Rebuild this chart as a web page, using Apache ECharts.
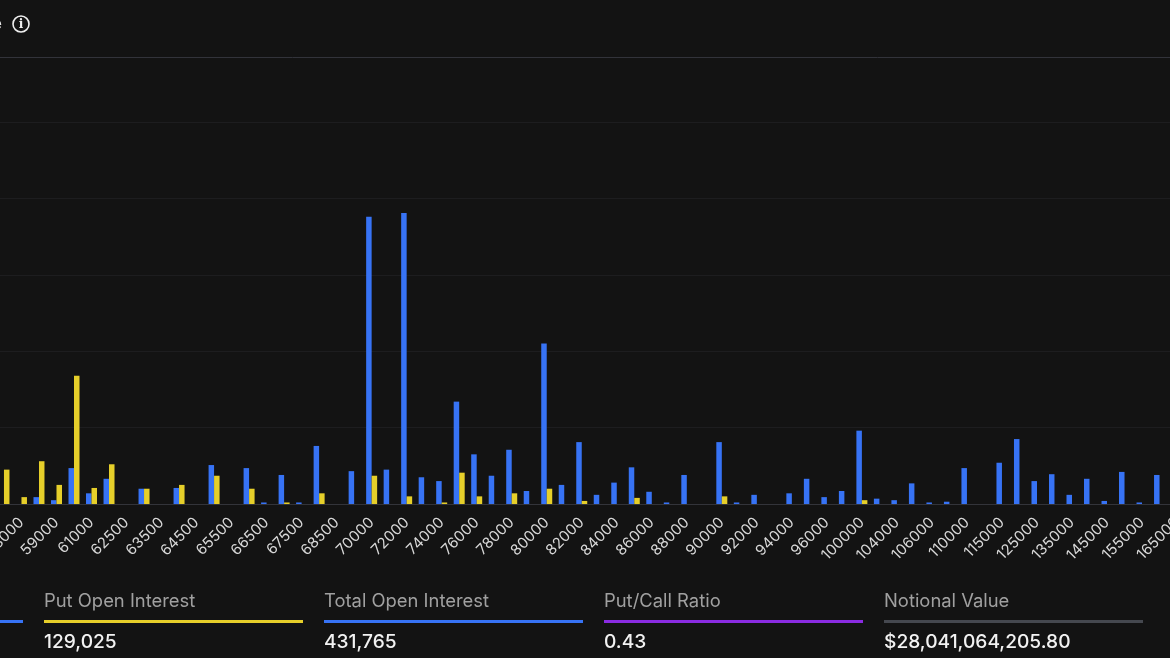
<!DOCTYPE html>
<html><head><meta charset="utf-8">
<style>html,body{margin:0;padding:0;background:#131313;overflow:hidden}#c{width:1170px;height:658px}</style>
<script src="https://cdn.jsdelivr.net/npm/echarts@6/dist/echarts.min.js"></script>
</head><body><div id="c"></div>
<script>
const strikes=['57000','57500','58000','58500','59000','60000','61000','62000','62500','63000','63500','64000','64500','65000','65500','66000','66500','67000','67500','68000','68500','69000','70000','71000','72000','73000','74000','75000','76000','77000','78000','79000','80000','81000','82000','83000','84000','85000','86000','87000','88000','89000','90000','91000','92000','93000','94000','95000','96000','98000','100000','102000','104000','105000','106000','108000','110000','112000','115000','120000','125000','130000','135000','140000','145000','150000','155000','160000','165000'];
const callOI=[0,0,0,900,500,4700,1400,3300,0,2000,0,2100,0,5100,0,4700,200,3800,200,7600,0,4300,37600,4500,38100,3500,3000,13400,6500,3700,7100,1700,21000,2500,8100,1200,2800,4800,1600,200,3800,0,8100,200,1200,0,1400,3300,900,1700,9600,700,500,2700,200,300,4700,0,5400,8500,3000,3900,1200,3300,400,4200,200,3800,0];
const putOI=[0,4500,900,5600,2500,16800,2100,5200,0,2000,0,2500,0,3700,0,2000,0,200,0,1400,0,0,3700,0,1000,0,200,4100,1000,0,1400,0,2000,0,400,0,0,800,0,0,0,0,1000,0,0,0,0,0,0,0,500,0,0,0,0,0,0,0,0,0,0,0,0,0,0,0,0,0,0];
const statLabels=['Call Open Interest','Put Open Interest','Total Open Interest','Put/Call Ratio','Notional Value'];
const statValues=['302,740','129,025','431,765','0.43','$28,041,064,205.80'];
const statColors=['#3773f5','#e6cf2a','#3773f5','#8a2be2','#45484f'];
const FONT='Inter, "Noto Sans", sans-serif';
const statX=[-236,44,324,604,884],statW=259;
const gfx=[
 {type:'line',silent:true,shape:{x1:0,y1:57.5,x2:1170,y2:57.5},style:{stroke:'#32333a',lineWidth:1}},
 {type:'text',silent:true,style:{x:2,y:24,text:'Open Interest By Strike Price',align:'right',verticalAlign:'middle',fill:'#e6e6e6',font:'500 16px '+FONT}},
 {type:'circle',silent:true,shape:{cx:21,cy:24,r:8},style:{fill:'none',stroke:'#eeeeee',lineWidth:1.6}},
 {type:'text',silent:true,style:{x:21,y:24.5,text:'i',align:'center',verticalAlign:'middle',fill:'#eeeeee',font:'700 12px "DejaVu Serif", serif'}}
];
statLabels.forEach((t,i)=>{
 gfx.push({type:'text',silent:true,style:{x:statX[i],y:601.5,text:t,verticalAlign:'middle',fill:'#a0a0a0',font:'400 18.4px '+FONT}});
 gfx.push({type:'rect',silent:true,shape:{x:statX[i],y:620,width:statW,height:3},style:{fill:statColors[i]}});
 gfx.push({type:'text',silent:true,style:{x:statX[i],y:642.5,text:statValues[i],verticalAlign:'middle',fill:'#f2f2f2',font:'500 19.2px '+FONT}});
});
const chart=echarts.init(document.getElementById('c'),null,{renderer:'canvas'});
chart.setOption({
 animation:false,backgroundColor:'#131313',
 grid:{left:-22.3,right:-15.8,top:122,bottom:154,containLabel:false,outerBoundsMode:'none'},
 xAxis:{type:'category',data:strikes,
  axisLine:{lineStyle:{color:'#33343a',width:1}},axisTick:{show:false},
  axisLabel:{interval:1,rotate:45,color:'#d8d8d8',fontSize:15,fontFamily:FONT,margin:16,hideOverlap:false}},
 yAxis:{type:'value',min:0,max:50000,interval:10000,axisLabel:{show:false},axisLine:{show:false},axisTick:{show:false},
  splitLine:{lineStyle:{color:'#1d1d1f',width:1}}},
 series:[
  {name:'Call Open Interest',type:'bar',data:callOI,barWidth:5.5,barGap:'0%',itemStyle:{color:'#3773f5'}},
  {name:'Put Open Interest',type:'bar',data:putOI,barWidth:5.5,barGap:'0%',itemStyle:{color:'#e6cf2a'}}
 ],
 graphic:gfx
});
</script></body></html>
